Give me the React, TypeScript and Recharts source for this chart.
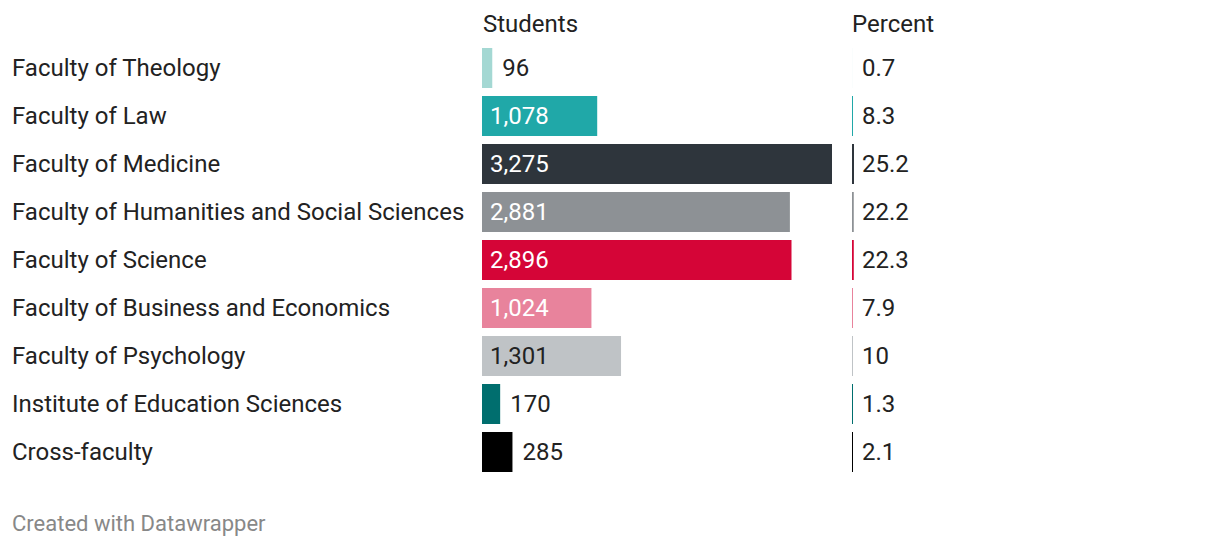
import { BarChart, Bar, XAxis, YAxis, Cell, LabelList } from "recharts";

const faculties = [
  "Faculty of Theology",
  "Faculty of Law",
  "Faculty of Medicine",
  "Faculty of Humanities and Social Sciences",
  "Faculty of Science",
  "Faculty of Business and Economics",
  "Faculty of Psychology",
  "Institute of Education Sciences",
  "Cross-faculty",
];

const students = [96, 1078, 3275, 2881, 2896, 1024, 1301, 170, 285];

const percent = [0.7, 8.3, 25.2, 22.2, 22.3, 7.9, 10, 1.3, 2.1];

const colors = [
  "#a4d8d3",
  "#20a8a8",
  "#2e353c",
  "#8d9195",
  "#d50537",
  "#e8839c",
  "#bfc3c6",
  "#006e6e",
  "#000000",
];

const data = faculties.map((name, i) => ({
  name,
  students: students[i],
  percent: percent[i],
}));

const FONT = "Roboto, 'Noto Sans', sans-serif";
const TEXT = "#222222";

// light fills get dark text inside the bar
const isLight = (hex: string) => {
  const r = parseInt(hex.slice(1, 3), 16);
  const g = parseInt(hex.slice(3, 5), 16);
  const b = parseInt(hex.slice(5, 7), 16);
  return (0.299 * r + 0.587 * g + 0.114 * b) / 255 > 0.7;
};

const FacultyTick = (props: any) => {
  const { y, payload } = props;
  return (
    <text
      x={12}
      y={y}
      dominantBaseline="central"
      fill={TEXT}
      fontSize={24}
      fontFamily={FONT}
    >
      {payload.value}
    </text>
  );
};

const StudentLabel = (props: any) => {
  const { x, y, width, height, value, index } = props;
  const inside = width > 80;
  const fill = inside ? (isLight(colors[index]) ? TEXT : "#ffffff") : TEXT;
  return (
    <text
      x={inside ? x + 8 : x + width + 10}
      y={y + height / 2}
      dominantBaseline="central"
      fill={fill}
      fontSize={24}
      fontFamily={FONT}
    >
      {Number(value).toLocaleString("en-US")}
    </text>
  );
};

const PercentLabel = (props: any) => {
  const { x, y, height, value } = props;
  return (
    <text
      x={x + 10}
      y={y + height / 2}
      dominantBaseline="central"
      fill={TEXT}
      fontSize={24}
      fontFamily={FONT}
    >
      {String(value)}
    </text>
  );
};

const header = {
  position: "absolute" as const,
  top: 11,
  fontSize: 24,
  fontFamily: FONT,
  color: TEXT,
  lineHeight: "26px",
};

export default function App() {
  return (
    <div
      style={{
        position: "absolute",
        left: 0,
        top: 0,
        width: 1220,
        height: 548,
        background: "#ffffff",
      }}
    >
      <div style={{ ...header, left: 483 }}>Students</div>
      <div style={{ ...header, left: 852 }}>Percent</div>

      <div style={{ position: "absolute", left: 0, top: 0 }}>
        <BarChart
          width={1220}
          height={548}
          data={data}
          layout="vertical"
          margin={{ top: 44, right: 388, bottom: 72, left: 0 }}
        >
          <XAxis type="number" domain={[0, 3275]} hide />
          <YAxis
            type="category"
            dataKey="name"
            width={482}
            axisLine={false}
            tickLine={false}
            tick={<FacultyTick />}
          />
          <Bar dataKey="students" barSize={40} isAnimationActive={false}>
            {data.map((d, i) => (
              <Cell key={d.name} fill={colors[i]} />
            ))}
            <LabelList dataKey="students" content={<StudentLabel />} />
          </Bar>
        </BarChart>
      </div>

      <div style={{ position: "absolute", left: 852, top: 0 }}>
        <BarChart
          width={120}
          height={548}
          data={data}
          layout="vertical"
          margin={{ top: 44, right: 96, bottom: 72, left: 0 }}
        >
          <XAxis type="number" domain={[0, 300]} hide />
          <YAxis type="category" dataKey="name" hide />
          <Bar
            dataKey="percent"
            barSize={40}
            minPointSize={(v: number) => (v >= 1 ? 1 : 0)}
            isAnimationActive={false}
          >
            {data.map((d, i) => (
              <Cell key={d.name} fill={colors[i]} />
            ))}
            <LabelList dataKey="percent" content={<PercentLabel />} />
          </Bar>
        </BarChart>
      </div>

      <div
        style={{
          position: "absolute",
          left: 12,
          top: 511,
          fontSize: 22,
          fontFamily: FONT,
          color: "#888888",
          lineHeight: "26px",
        }}
      >
        Created with Datawrapper
      </div>
    </div>
  );
}
